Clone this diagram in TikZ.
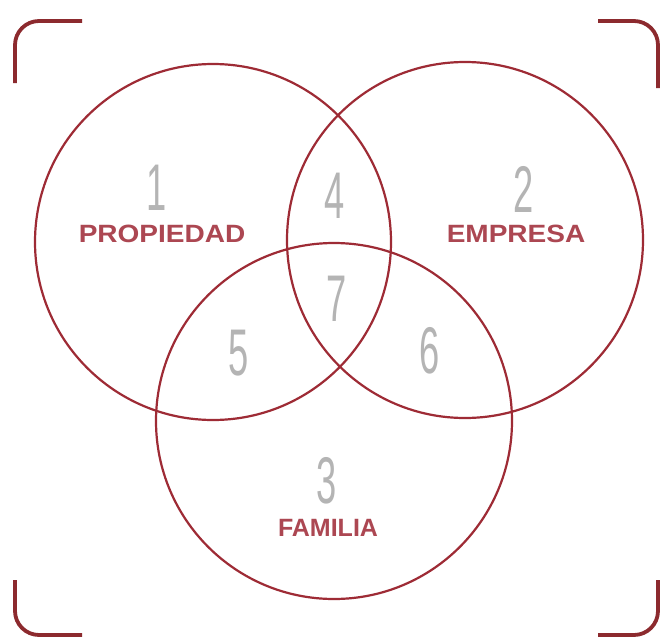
\documentclass[tikz,border=0pt]{standalone}
\usepackage{fontspec}
\usepackage{graphicx}
\setmainfont{Liberation Sans}
\definecolor{RingRed}{HTML}{9E2B35}
\definecolor{FrameRed}{HTML}{8C2A2E}
\definecolor{LabelRed}{HTML}{AC4752}
\definecolor{DigitGrey}{HTML}{B4B4B4}
\newcommand{\thindigit}[1]{\scalebox{0.55}[1]{#1}}
\newcommand{\widelabel}[1]{\scalebox{1.12}[1]{#1}}
\begin{document}
\begin{tikzpicture}[x=1pt,y=-1pt,ring/.style={draw=RingRed,line width=2.2pt},frame/.style={draw=FrameRed,line width=3.8pt,rounded corners=24pt},digit/.style={text=DigitGrey,font=\fontsize{66}{66}\selectfont,inner sep=0pt},area/.style={text=LabelRed,font=\fontsize{25}{25}\selectfont\bfseries,inner sep=0pt}]
\useasboundingbox(0,0)rectangle(661,640);\fill[white](0,0)rectangle(661,640);
\draw[frame](15,83)--(15,21)--(82,21);\draw[frame](598,21)--(658,21)--(658,88);\draw[frame](15,580)--(15,635)--(82,635);\draw[frame](598,635)--(658,635)--(658,580);
\draw[ring](213,242)circle(178pt);\draw[ring](465,240)circle(178pt);\draw[ring](334,421)circle(178pt);
\node[digit](n1)at(157,188){\thindigit{1}};\node[digit](n2)at(524,189){\thindigit{2}};\node[digit](n3)at(327,481){\thindigit{3}};\node[digit](n4)at(335,196){\thindigit{4}};
\node[digit](n5)at(239,353){\thindigit{5}};\node[digit](n6)at(430,351){\thindigit{6}};\node[digit](n7)at(337,299){\thindigit{7}};
\node[area](propiedad)at(162,234){\widelabel{PROPIEDAD}};\node[area](empresa)at(516,234){\widelabel{EMPRESA}};\node[area](familia)at(328,528){FAMILIA};
\end{tikzpicture}
\end{document}
